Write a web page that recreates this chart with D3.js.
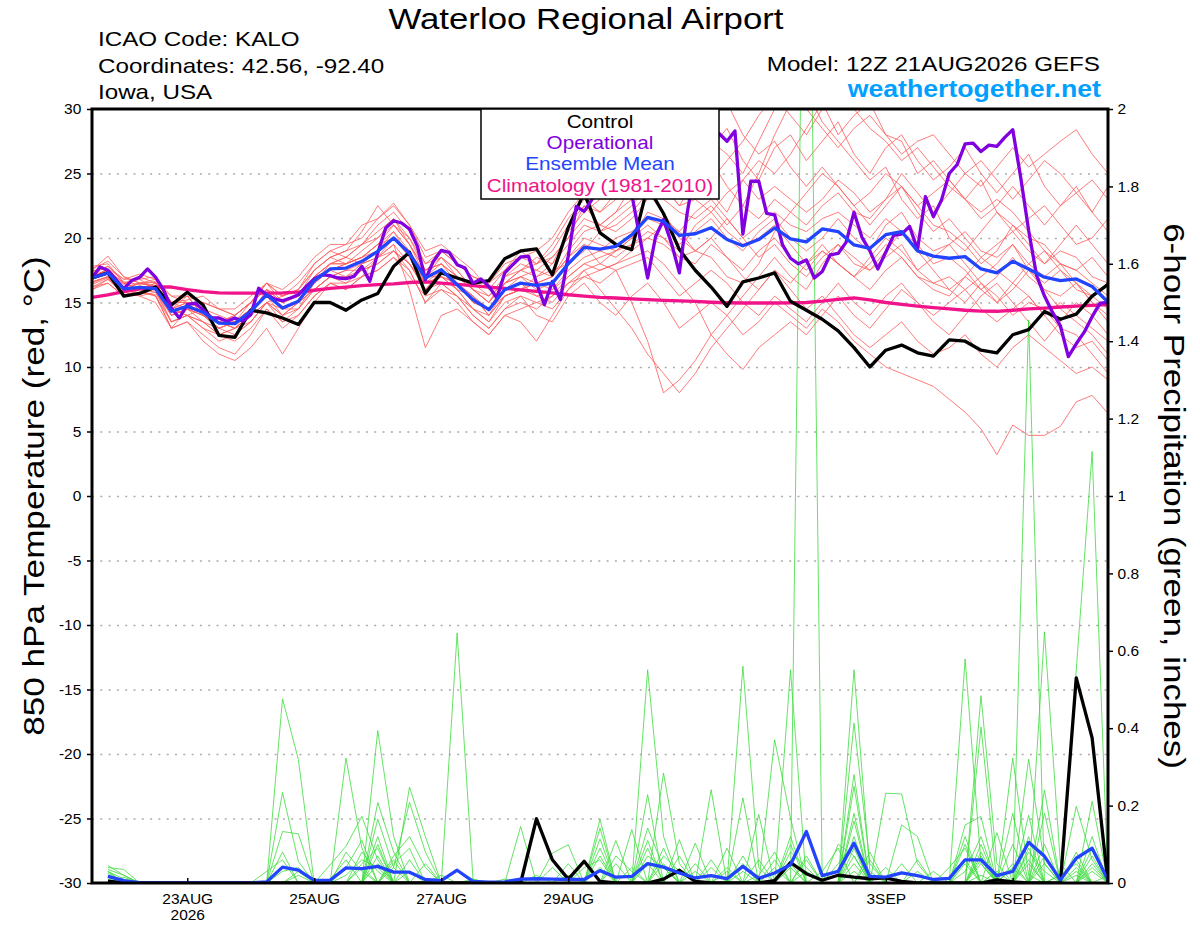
<!DOCTYPE html>
<html>
<head>
<meta charset="utf-8">
<script src="https://cdn.jsdelivr.net/npm/d3@7"></script>
<style>
  html, body { margin: 0; padding: 0; background: #fff; }
  svg { display: block; font-family: 'Liberation Sans', Arial, Helvetica, sans-serif; }
</style>
</head>
<body>
<div class="chart"></div>
<script>
// run: 12Z 21AUG2026, 16 days, members every 6h, operational every 3h
const runStart = Date.UTC(2026, 7, 21, 12);
const runEnd = Date.UTC(2026, 8, 6, 12);

const tickDates = ['2026-08-23', '2026-08-25', '2026-08-27', '2026-08-29', '2026-09-01', '2026-09-03', '2026-09-05'];
const tickLabels = ['23AUG', '25AUG', '27AUG', '29AUG', '1SEP', '3SEP', '5SEP'];
const tickYear = '2026';
const tempTicks = [-30, -25, -20, -15, -10, -5, 0, 5, 10, 15, 20, 25, 30];
const precipTicks = [0, 0.2, 0.4, 0.6, 0.8, 1, 1.2, 1.4, 1.6, 1.8, 2];
const legendItems = ['Control', 'Operational', 'Ensemble Mean', 'Climatology (1981-2010)'];

// 850 hPa temperature, 6-hourly from 21AUG 12Z
const controlTemp = [16.9,17.3,15.5,15.7,16.2,14.8,15.8,14.8,12.45,12.3,
  14.4,14.2,13.8,13.3,15.0,15.0,14.4,15.2,15.7,17.8,
  18.9,15.7,17.3,16.9,16.5,16.7,18.4,19.0,19.15,17.15,
  20.8,23.5,20.4,19.5,19.1,24.0,21.9,19.1,17.5,16.2,
  14.7,16.6,16.9,17.3,15.1,14.4,13.7,12.8,11.5,10.0,
  11.3,11.7,11.1,10.85,12.1,12.0,11.3,11.1,12.5,12.9,
  14.3,13.7,14.1,15.5,16.4];

// operational run, 3-hourly
const operTemp = [16.9,17.75,17.5,16.8,16.07,16.7,16.95,17.6,16.97,16.0,
  14.57,13.8,14.83,14.96,14.44,13.8,13.8,13.54,13.8,13.54,
  14.05,16.1,15.6,15.27,15.14,15.35,15.6,16.25,16.82,17.15,
  17.08,16.9,16.85,17.02,17.8,16.64,18.84,20.78,21.34,21.16,
  20.7,19.35,16.77,18.19,19.04,18.88,17.93,17.67,16.5,16.82,
  16.25,15.35,17.29,17.93,18.53,18.58,16.5,14.83,16.64,15.22,
  18.58,22.45,22.06,23.0,24.5,25.5,25.0,24.0,23.4,20.1,
  16.9,20.1,21.42,19.6,17.3,22.0,25.5,27.0,27.8,28.1,
  27.5,28.3,20.3,24.4,24.4,21.9,21.8,19.46,18.43,18.0,
  18.3,16.9,17.4,18.7,18.8,19.66,22.0,20.05,19.0,17.6,
  18.9,20.2,20.3,20.9,19.1,23.2,21.65,22.9,25.0,25.7,
  27.3,27.35,26.7,27.2,27.1,27.8,28.4,24.7,20.6,17.1,
  15.5,14.25,13.2,10.8,11.8,12.7,13.9,14.95,15.0];

const meanTemp = [16.9,17.29,16.05,16.17,16.07,14.32,14.7,14.24,13.4,13.36,
  14.32,15.6,14.57,15.1,16.7,17.6,17.67,18.19,18.97,20.0,
  18.8,16.9,17.55,16.38,15.22,14.44,16.0,16.5,16.33,16.5,
  18.0,19.27,19.14,19.35,20.25,21.6,21.3,20.2,20.33,20.8,
  19.88,19.4,19.88,20.78,19.93,19.7,20.7,20.5,19.46,19.2,
  20.26,20.5,19.0,18.6,18.43,18.56,17.6,17.3,18.2,17.6,
  16.96,16.7,16.83,16.24,15.03];

const climTemp = [15.4,15.6,15.85,16.05,16.2,16.2,16.0,15.85,15.75,15.72,
  15.72,15.72,15.74,15.8,15.95,16.1,16.2,16.3,16.38,16.45,
  16.55,16.6,16.5,16.4,16.3,16.2,16.1,15.98,15.86,15.75,
  15.6,15.5,15.4,15.35,15.28,15.22,15.16,15.12,15.08,15.02,
  14.98,14.96,14.96,14.96,14.97,15.0,15.1,15.25,15.35,15.2,
  15.0,14.85,14.72,14.6,14.5,14.4,14.33,14.32,14.4,14.5,
  14.57,14.65,14.72,14.78,14.83];

const memberTemp = [
  [17.5,18.6,17,16.5,16.8,15,15.5,14,13,12.5,13.5,15,15.5,16,17.5,18.5,19,20.5,22.5,21,19.5,17,18.5,17.5,16,15,17,18,17.5,18.5,20,22.5,21,22,24,25.5,24,22.5,24.5,26,24,22.5,25,28,30.5,31.5,29,27.5,26,24.5,25.5,23,21.5,22.5,20,19,20.5,22,21,19.5,18,19.5,21,19.5,18],
  [16.5,17,15.5,15.8,15.5,13.5,14,13,12,12.5,13.5,15,13.5,14.5,16,17,16.5,17.5,18,19,17.5,15,16.5,15.5,14,13,14.5,15.5,14,13.5,15.5,16.5,15,14,15.5,16.5,15,13,14,15,14,12.5,13.5,15,14,13,14.5,13.5,12,11,10,9.5,9,8.5,7.5,6.5,5.2,3.2,5.5,4.7,4.7,5.4,7.3,7.8,6.4],
  [17,17.5,16.5,17,16.5,15.5,15,15,14.5,14,15,16.5,15.5,16,18,19,18.5,19.5,21,22,20.5,18,19,18,17,16.5,17.5,19,18,19.5,21.5,23,22,23.5,25,26.5,27.5,26,25,27,28.5,26,24.5,27,28,26,27.5,29,26.5,25,27,28,26,24.5,25.5,27,25,23.5,25,26.5,24,22.5,24,22,20.5],
  [16.8,17.2,16,16.5,16.2,14,14.5,14.5,13.5,13,14.5,15.5,14,15,16.5,17.5,18,18.5,19.5,20.5,19,16.5,17.5,16,14.5,14,15.5,16,16.5,17,18.5,19.5,18,17.5,15,12,8,9,10.5,12.5,14,15.5,17,18.5,17,16,18,19.5,18,17.5,19,20.5,19,17.5,16,15,16.5,15.5,14,15,14.5,13,12.5,11,9.5],
  [17.8,18,16.5,16,16.5,14.5,15.5,14,13,13.5,14,16,15,15.5,17,18,18.5,18,19,20.5,18.5,16,17,16.5,15.5,14.5,16.5,17,16,16.5,18,19,20.5,21,22,23.5,22,20,19,18.5,17,16.5,18,20.5,22,23.5,25,24,22.5,21,22.5,24,22.5,21,20.5,19.5,18,19,21,20,19.5,18,17.5,18.5,17],
  [16.2,16.8,15.8,16,15.8,13.5,14,13.5,12.5,12,13,14.5,13.5,14,15.5,16.5,16,17,17.5,18.5,17,15.5,16,15,13.5,12.5,14,14.5,15,14.5,16,17,17.5,18,18.5,19,18,16.5,15,12.5,11,9.8,11.5,12.5,13.5,12.5,14,15.5,14,13,14.5,16,15,13.5,12.5,14,15.5,16.5,15,13.5,12,13.5,15,14,12.5],
  [17.2,17.8,16.8,16.8,17,15,15.2,15.5,14.5,14.5,15.5,16.5,16,17,18.5,19.5,19.5,21,21.5,22.5,21,19,19.5,18.5,17.5,16,17.5,18.5,19,20,22,23.5,24,25.5,26.5,27,25.5,24,23,24.5,26,27.5,29.5,31,29.5,28,30,31.5,30,28.5,27.5,26,27,25.5,24,23,24.5,22,20.5,21.5,22.5,21,19.5,20,21.5],
  [16.6,17,16.2,15.5,15.8,14,14.5,13.5,13,13.5,14.5,15.5,14.5,15,16,17,17.5,18,18.5,19.5,18,16,17.5,16.5,15,14.5,16,16.5,15.5,15,16.5,17.5,16,14.5,13,11,9.5,8,9.5,11.5,13,14.5,16,17.5,16.5,18,19.5,18,17,18.5,20,19,17.5,18.5,19.5,18,16.5,15,16,17.5,16,14.5,13.5,12.5,11],
  [17.5,17.2,16,16.5,16.2,14.5,14,14.5,14,13.5,14.5,15.5,15,15.5,17,18,18,18.5,19.5,21,19.5,17.5,18,17,16,15,16.5,17,17.5,17,19,20.5,21,20.5,21.5,23,24,23.5,25,23.5,22,24.5,26,25,26.5,28.5,30.5,28,29.5,30.5,28,27.5,25,26,24.5,23,21.5,22.5,24,22.5,21,22.5,23.5,24.5,23],
  [16,16.5,15.5,16,16.5,14.5,14,13,12.5,13,14,15,14.5,14.5,16.5,17.5,17,18,18.5,20,19,17,17,16,15.5,14,15.5,16,17,17.5,18,19.5,19,20,20.5,21.5,21,19.5,20.5,21.5,20,19,20.5,21.5,20,19,20,21.5,20,19,21,22,20,19,19.5,20.5,19,18.5,19.5,18,17,18,17.5,16.5,15.5],
  [17,17.5,16.5,16,15.5,13,14.5,14,13.5,13,14,16,14.5,15,16.5,17.5,18,18.5,19.5,20,18.5,16.5,17,16,14.5,13.5,15.5,16,16.5,16,17.5,18.5,19,18.5,19.5,20.5,20,18.5,19,20,18.5,17,16,17.5,16,14.5,15.5,14,12.5,11.5,12.5,13.5,12,11,11.5,12.5,11,10,11.5,12.5,11.5,10.5,9.5,10,9],
  [16.8,17.6,16.2,16.5,16.3,14.5,15,14.5,13.5,14,15,16,15,15.5,17.5,18.5,18,19,20,21,20,17.5,18,17,16.5,15.5,16.5,17.5,17,18,19.5,21,20.5,21.5,22.5,24,23,22,21.5,22.5,21,22.5,21.5,23,22,21,22.5,23.5,22,21.5,23,25,23.5,22,23.5,25,24,25.5,27,25.5,26.5,27.5,28.4,26.5,25],
  [16.4,16.9,15.8,16.3,16,14,14.5,14,13.5,13,13.5,15,14,15,16,17,17.5,17.5,18.5,19,18,16.5,17,16.5,15,14.5,15.5,16,15.5,16,17,18,18.5,19,19.5,20,21,20.5,19,20,21.5,20,18.5,19.5,18,17,18.5,19.5,18.5,17.5,18.5,19.5,17.5,16.5,17,16,17,18,19.5,17.5,16.5,17.5,16.5,15,14],
  [17.6,18.2,17,16.5,16.6,15,15,14,13.5,14,15,16.5,15.5,16,17.5,18.5,19,19.5,20.5,21.5,19.5,17.5,18.5,17.5,16,15.5,17,17.5,18.5,18,20.5,22,23,24.5,25.5,27,28.5,27,28,29.5,30.5,28,26.5,27.5,25.5,24,25.5,24,22.5,23.5,25,24,22,20.5,21.5,20,18.5,19.5,20.5,19,18,19,18.5,17,16.5],
  [16.2,16.5,15.5,15.8,15.6,13,13.5,12.5,11.5,11,12.5,14.5,13,14,15.5,16.5,16.5,17,17.5,18.5,17.5,15,16,15.5,14,13,14.5,15,14.5,15.5,16.5,17,16.5,17.5,18,18.5,17,15.5,16.5,17.5,16.5,15,14,15.5,14.5,13.5,15,16.5,15,14,15.5,16.5,15,14,15,16,14.5,13.5,14.5,15.5,14,12.5,11.5,12,10.5],
  [17,17.4,16.4,16.8,16,14.5,15,14.5,13.5,13.5,14.5,15.5,14.5,15,16.5,18,18,18.5,19,20,19,17,18,16.5,15.5,14,16,17,16.5,17,18.5,20,19.5,19,20,22,21.5,20.5,22,23,21.5,20,21,22,21,20.5,21.5,22,21,20,21.5,20.5,19.5,18,18.5,17.5,16,17,18.5,17,16,15.5,16.5,15.5,14.5],
  [16.6,17,15.8,15.5,15,13,13.5,12,11,10.5,11.5,13,11,13,15,16.5,16,17,18.5,19.5,16,11.5,14,14.5,13.5,12.5,14,13.5,12,14,16,17.5,18,19,20,21,20,19,21,22,20.5,19.5,20,21,19.5,18,19,18,17,16,17.5,18.5,17,16,15.5,17,16,15,16.5,15.5,14,15,14,13,12],
  [17.4,17.8,16.6,16.4,16.6,15,14.5,14,13,13.5,15,16.5,15,15.5,17,18,18.5,19.5,20,21.5,20,18,18.5,17,16,15,16.5,17.5,18,18.5,20,21.5,21,22,23,24.5,24,22.5,23,22,23.5,24.5,23,24,23,22,23,24.5,23.5,22,23,24,22.5,23.5,24.5,23,22,23,22,20.5,19,18,16.5,15,13.5],
  [16,16.8,15.6,15.8,16,13.5,14,13.5,12.5,13,14,15,14,14.5,16,17,17,17.5,18,19,18,16,16.5,15.5,14.5,13.5,15,15.5,15,15.5,17,18,17.5,18,19,20,19.5,18.5,18,19.5,18.5,17.5,19,20,18.5,17.5,19,18,17,18,19.5,18.5,17,16.5,16,17,18.5,17.5,16.5,18,19,17.5,16,15.5,16.5],
  [17,17.6,16.8,17.2,16.8,15.5,15.5,15,14.5,14,15,16,15.5,16.5,18,19,19.5,20,21.5,22.7,21,18.5,19,18,17,16.5,18,18.5,18,19,21,22.5,22,23,24,25,26.5,25,26,27.5,26.5,25,27.5,30,32,30,28.5,27,28.5,29.5,28,26.5,27.5,28,26.5,25,26,24.5,23,24.5,26,25,23.5,22,24]
];

// 6-hour precipitation (inches), accumulations ending 21AUG 18Z .. 6SEP 12Z
const controlPrecip = [.005,0,0,0,0,0,0,0, 0,0,0,0,0,0,0,0, 0,0,0,0,0,0,0,0, 0,0,0,.166,.06,.01,.056,.004,
  0,0,0,.01,.033,.004,0,0, 0,0,.006,.053,.024,.007,.02,.015, .011,.013,.004,0,0,0,0,0, .008,.003,0,0,0,.53,.375,0];
const meanPrecip = [.017,.006,.001,0,0,0,0,0, 0,0,.003,.041,.033,.007,.007,.039, .037,.043,.028,.028,.009,.006,.033,.004,
  .002,.003,.01,.011,.01,.009,.009,.032, .015,.017,.05,.041,.026,.013,.019,.011, .043,.012,.026,.047,.133,.019,.03,.103,
  .017,.015,.026,.019,.009,.012,.06,.06, .019,.03,.105,.069,.008,.064,.09,.008];
const memberPrecip = [
  [.03,.01,0,0,0,0,0,0, 0,0,0,.476,.319,0,0,0, 0,0,0,0,0,0,0,0, 0,0,0,0,0,0,0,0, 0,0,.551,.12,0,0,0,0, 0,0,0,0,0,0,0,.413, .05,0,0,0,0,0,0,.02, 0,0,.32,.05,0,0,0,0],
  [.045,.02,0,0,0,0,0,0, 0,0,0,.234,.056,0,0,0, 0,.208,.08,0,0,0,0,0, 0,0,0,0,0,0,0,.142, 0,0,0,0,0,0,0,0, .56,.04,0,0,3.2,0,0,0, 0,0,0,0,0,0,.15,.172, 0,0,0,0,0,0,.211,0],
  [.02,0,0,0,0,0,0,0, 0,0,0,.133,.127,0,0,0, 0,0,0,.248,.12,0,0,0, 0,0,0,0,0,0,0,0, 0,0,0,.284,.05,0,0,0, 0,0,0,.551,0,0,0,.28, 0,0,0,0,0,0,0,0, 0,0,1.455,0,0,.04,0,0],
  [.04,.035,0,0,0,0,0,0, 0,0,0,0,0,0,0,.323, .09,0,0,0,0,0,.646,.01, 0,0,0,0,0,0,0,0, 0,0,0,0,0,0,.241,0, 0,0,0,0,0,0,0,.551, .03,0,0,0,0,0,0,0, 0,.18,0,.649,.05,0,0,0],
  [.01,0,0,0,0,0,0,0, 0,0,0,0,0,0,0,0, 0,.394,.12,0,0,0,0,0, 0,0,.146,0,0,0,0,0, 0,0,.228,0,0,0,0,0, 0,0,.37,.168,0,0,0,0, 0,0,0,0,0,0,.579,.05, 0,0,0,0,0,.55,1.115,0],
  [0,.015,0,0,0,0,0,0, 0,0,0,0,0,0,.047,.095, .172,.06,0,0,0,0,0,0, 0,0,0,0,.077,.099,0,0, 0,0,0,0,0,0,0,0, .22,0,0,0,0,0,0,0, 0,.232,.23,.05,0,0,0,0, 0,.323,.02,0,0,0,0,0],
  [.03,0,0,0,0,0,0,0, 0,0,0,0,0,0,0,0, 0,.165,.04,.208,.08,0,0,0, 0,0,0,0,0,0,0,0, .11,0,0,0,0,.103,0,0, 0,0,0,0,0,0,0,.25, 0,0,0,0,0,0,0,.484, .05,0,0,.24,0,0,.05,0],
  [.025,0,0,0,0,0,0,0, 0,0,.03,.06,0,0,0,0, .05,.09,0,0,0,0,0,0, 0,0,0,0,0,0,0,.165, 0,0,.142,.04,0,0,0,0, 0,0,0,.08,.04,0,0,0, 0,0,.15,.12,0,0,0,.403, 0,0,.175,0,0,0,0,0],
  [0,0,0,0,0,0,0,0, 0,0,0,0,.02,0,0,.04, .11,0,0,0,0,.02,0,0, 0,0,0,0,0,0,0,0, 0,.138,0,0,.112,0,0,.09, 0,0,0,0,0,0,0,.18, 0,0,0,0,.03,0,0,0, .13,0,0,0,0,.198,.06,0],
  [.035,.02,0,0,0,0,0,0, 0,0,0,0,0,0,0,0, 0,0,.07,.12,.04,0,0,0, 0,0,0,.02,0,0,0,.114, 0,0,0,0,0,0,.06,0, 0,.177,0,0,0,.03,.09,0, 0,0,0,0,0,0,.06,0, 0,0,0,.18,0,0,0,.02],
  [0,0,0,0,0,0,0,0, 0,0,0,.03,.04,0,0,0, 0,.07,0,0,0,0,0,0, 0,.01,0,0,0,0,.04,.06, 0,0,0,.05,0,0,0,0, .03,0,0,.05,0,0,0,.12, 0,0,0,0,0,.04,.09,0, 0,0,.08,.03,0,0,.04,0],
  [0,0,0,0,0,0,0,0, 0,0,0,0,0,0,0,.02, .06,.04,0,0,0,0,0,0, 0,0,0,0,0,.05,0,0, 0,0,.09,0,0,.05,0,0, 0,0,.06,0,0,0,.1,.07, 0,0,0,0,0,0,0,.06, 0,.05,0,0,.02,.06,0,0],
  [.02,0,0,0,0,0,0,0, 0,0,0,0,0,0,0,0, 0,0,.05,.09,0,0,0,0, 0,0,0,0,.04,0,0,0, .07,.03,0,0,0,0,0,.04, 0,0,0,0,.06,0,0,0, .08,0,0,0,0,0,.05,0, 0,0,.12,0,0,0,.09,0],
  [0,0,0,0,0,0,0,0, 0,0,0,0,0,0,.01,.06, 0,0,0,0,.05,0,0,0, 0,0,0,0,0,0,0,.09, 0,0,0,.07,.03,0,0,0, 0,.02,.08,0,0,0,0,.09, 0,0,0,.03,0,0,0,.1, 0,0,0,.07,0,.03,0,0],
  [0,0,0,0,0,0,0,0, 0,0,0,0,0,0,0,0, .08,.03,0,0,0,0,0,.01, 0,0,0,0,0,0,0,0, 0,0,.05,0,0,0,.04,0, 0,0,0,.1,0,0,0,.05, 0,.04,0,0,0,0,.12,0, .03,0,.06,0,0,0,.07,0],
  [0,0,0,0,0,0,0,0, 0,0,0,.08,0,0,0,0, 0,.12,0,.06,0,0,0,0, 0,0,0,0,0,0,0,0, 0,.04,0,.09,0,0,0,0, .07,0,0,0,.03,0,0,.16, 0,0,0,0,0,0,0,.08, 0,.1,0,0,0,.02,0,0],
  [.03,0,0,0,0,0,0,0, 0,0,0,0,0,0,0,.08, .03,0,.04,0,0,0,0,0, 0,0,0,0,0,0,0,.04, 0,0,.11,0,0,0,0,.03, 0,0,0,.04,0,0,0,0, .06,0,0,0,0,0,.03,.12, 0,0,0,.05,0,0,.03,0],
  [0,0,0,0,0,0,0,0, 0,0,0,0,0,0,0,0, 0,.05,0,.03,0,0,0,0, 0,0,0,0,0,.02,0,0, .05,0,0,0,.07,0,0,0, 0,0,.04,0,0,0,.05,.1, 0,0,.05,0,0,0,0,.07, 0,0,.05,0,0,.08,0,0],
  [.015,0,0,0,0,0,0,0, 0,0,0,0,.03,0,0,0, 0,.1,0,0,0,0,0,0, 0,0,0,0,0,0,0,0, 0,0,.07,.04,0,0,0,0, .05,0,0,.12,0,0,0,.07, 0,0,0,0,0,0,.1,0, 0,.04,0,.1,0,0,.12,0],
  [0,0,0,0,0,0,0,0, 0,0,0,0,0,0,0,0, .04,0,.06,0,0,0,0,0, 0,0,0,0,0,0,0,.07, 0,0,0,0,0,.03,0,0, 0,.06,0,0,.07,0,0,.03, 0,0,0,.06,0,0,0,.05, 0,0,.09,0,.02,.05,0,0]
];

const colors = { member: '#ff5a5a', precip: '#3cdc3c', control: '#000', oper: '#8000e0', mean: '#2244ff', clim: '#f0138a', site: '#00a0ff' };

const svg = d3.select('div.chart').append('svg').attr('width', 1200).attr('height', 927);
const plot = { left: 92, right: 1108, top: 109, bottom: 883 };
const hour = 3600 * 1000;
const sixHourly = i => new Date(runStart + i * 6 * hour);
const threeHourly = j => new Date(runStart + j * 3 * hour);

const x = d3.scaleUtc().domain([new Date(runStart), new Date(runEnd)]).range([plot.left, plot.right]);
const yTemp = d3.scaleLinear().domain([-30, 30]).range([plot.bottom, plot.top]);
const yPrecip = d3.scaleLinear().domain([0, 2]).range([plot.bottom, plot.top]);

svg.append('clipPath').attr('id', 'plot-clip').append('rect')
    .attr('x', plot.left).attr('y', plot.top)
    .attr('width', plot.right - plot.left).attr('height', plot.bottom - plot.top);

// dotted horizontal grid on the temperature ticks
const yGrid = d3.axisLeft(yTemp).tickValues(tempTicks.slice(1, -1)).tickFormat('').tickSizeInner(-(plot.right - plot.left)).tickSizeOuter(0);
const gridG = svg.append('g').classed('y-grid', true).attr('transform', `translate(${plot.left},0)`).call(yGrid);
gridG.select('.domain').remove();
gridG.selectAll('line').attr('stroke', '#aaa').attr('stroke-width', 1.4).attr('stroke-dasharray', '2 6.3');

const tempLine = d3.line().x((d, i) => x(sixHourly(i))).y(d => yTemp(d));
const operLine = d3.line().x((d, j) => x(threeHourly(j))).y(d => yTemp(d));
const precipLine = d3.line().x((d, i) => x(sixHourly(i + 1))).y(d => yPrecip(d));

const lines = svg.append('g').attr('clip-path', 'url(#plot-clip)').attr('fill', 'none').attr('stroke-linejoin', 'round');
lines.selectAll('path.member-temp').data(memberTemp).enter().append('path').classed('member-temp', true)
    .attr('d', tempLine).attr('stroke', colors.member).attr('stroke-width', 0.8);
lines.selectAll('path.member-precip').data(memberPrecip).enter().append('path').classed('member-precip', true)
    .attr('d', precipLine).attr('stroke', colors.precip).attr('stroke-width', 0.8);

const thick = [
    [climTemp, tempLine, colors.clim],
    [controlPrecip, precipLine, colors.control],
    [meanPrecip, precipLine, colors.mean],
    [controlTemp, tempLine, colors.control],
    [operTemp, operLine, colors.oper],
    [meanTemp, tempLine, colors.mean]
];
thick.forEach(([data, gen, color]) => {
    lines.append('path').datum(data).attr('d', gen).attr('stroke', color).attr('stroke-width', 3.3);
});

// text helper: the original fonts are drawn slightly wide
const label = (parent, str, px, py, { size, anchor = 'start', weight = 'normal', color = '#000', stretch = 1.16, rotate = 0 }) =>
    parent.append('text')
        .attr('transform', `translate(${px},${py}) rotate(${rotate}) scale(${stretch},1)`)
        .attr('text-anchor', anchor).attr('font-size', size).attr('font-weight', weight)
        .attr('fill', color).text(str);

const styleAxis = g => {
    g.select('.domain').remove();
    g.attr('font-family', null).attr('font-size', 14.5);
    g.selectAll('.tick line').attr('stroke', '#000').attr('stroke-width', 1.5);
    g.selectAll('.tick text').attr('fill', '#000').attr('transform', 'scale(1.07,1)');
};

const yAxisLeft = d3.axisLeft(yTemp).tickValues(tempTicks).tickSizeInner(5).tickSizeOuter(0).tickPadding(5).tickFormat(d => String(d));
svg.append('g').classed('y-axis', true).attr('transform', `translate(${plot.left},0)`).call(yAxisLeft).call(styleAxis);

const yAxisRight = d3.axisRight(yPrecip).tickValues(precipTicks).tickSizeInner(5).tickSizeOuter(0).tickPadding(4).tickFormat(d => String(d));
svg.append('g').classed('y-axis-right', true).attr('transform', `translate(${plot.right},0)`).call(yAxisRight).call(styleAxis);

const xAxis = d3.axisBottom(x).tickValues(tickDates.map(d => new Date(d + 'T00:00:00Z')))
    .tickSizeInner(-5).tickSizeOuter(0).tickPadding(10.5).tickFormat((d, i) => tickLabels[i]);
const xAxisG = svg.append('g').classed('x-axis', true).attr('transform', `translate(0,${plot.bottom})`).call(xAxis).call(styleAxis);
xAxisG.selectAll('.tick text').filter((d, i) => i === 0)
    .append('tspan').attr('x', 0).attr('dy', '1.1em').text(tickYear);

// frame
svg.append('rect').attr('x', plot.left).attr('y', plot.top)
    .attr('width', plot.right - plot.left).attr('height', plot.bottom - plot.top)
    .attr('fill', 'none').attr('stroke', '#000').attr('stroke-width', 3);

// legend
const legend = svg.append('g').classed('legend', true);
legend.append('rect').attr('x', 481).attr('y', plot.top).attr('width', 238).attr('height', 90)
    .attr('fill', '#fff').attr('stroke', '#000').attr('stroke-width', 1.5);
const legendColors = [colors.control, colors.oper, colors.mean, colors.clim];
const legendY = [127.5, 148.5, 170, 192];
legendItems.forEach((item, i) => label(legend, item, 600, legendY[i], { size: 18, anchor: 'middle', color: legendColors[i], stretch: 1.15 }));

// titles
label(svg, 'Waterloo Regional Airport', 586, 29.3, { size: 29, anchor: 'middle', stretch: 1.2 });
label(svg, 'ICAO Code: KALO', 98, 45.7, { size: 20.5, stretch: 1.18 });
label(svg, 'Coordinates: 42.56, -92.40', 98, 72.7, { size: 20.5, stretch: 1.18 });
label(svg, 'Iowa, USA', 98, 99.3, { size: 20.5, stretch: 1.18 });
label(svg, 'Model: 12Z 21AUG2026 GEFS', 1100, 70.7, { size: 20.5, anchor: 'end', stretch: 1.18 });
label(svg, 'weathertogether.net', 1101, 97.3, { size: 23, anchor: 'end', weight: 'bold', color: colors.site });
label(svg, '850 hPa Temperature (red, °C)', 44, 496, { size: 29.5, anchor: 'middle', rotate: -90, stretch: 1.19 });
label(svg, '6-hour Precipitation (green, inches)', 1164, 496, { size: 29.5, anchor: 'middle', rotate: 90, stretch: 1.185 });
</script>
</body>
</html>
